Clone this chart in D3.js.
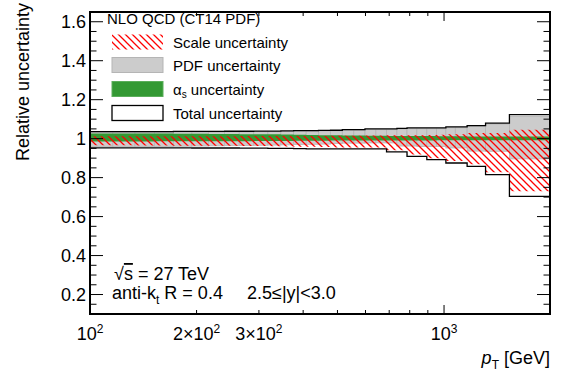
<!DOCTYPE html>
<html>
<head>
<meta charset="utf-8">
<script src="https://cdn.jsdelivr.net/npm/d3@7"></script>
<style>
  body { margin: 0; background: #fff; }
  text { font-family: "Liberation Sans", Arial, sans-serif; fill: #000; }
</style>
</head>
<body>
<svg id="chart" width="561" height="377"></svg>
<script>
// pT bin edges [GeV]
const binEdges = [100, 116, 134, 152, 172, 194, 216, 240, 264, 290, 318, 346, 376, 408, 442,
  478, 516, 556, 598, 642, 688, 736, 786, 838, 894, 952, 1012, 1076, 1162, 1310, 1530, 1992];

// relative uncertainty bands, one value per bin
const totalUp   = [1.036, 1.036, 1.036, 1.036, 1.037, 1.037, 1.037, 1.038, 1.038, 1.039, 1.039, 1.040, 1.041, 1.041, 1.042,
  1.043, 1.046, 1.046, 1.050, 1.050, 1.050, 1.053, 1.055, 1.055, 1.055, 1.055, 1.060, 1.060, 1.067, 1.080, 1.123];
const totalDown = [0.953, 0.953, 0.953, 0.953, 0.953, 0.952, 0.952, 0.952, 0.951, 0.951, 0.950, 0.950, 0.949, 0.948, 0.948,
  0.947, 0.947, 0.947, 0.947, 0.947, 0.932, 0.932, 0.909, 0.909, 0.892, 0.892, 0.875, 0.875, 0.858, 0.815, 0.704];
const pdfUp     = [1.033, 1.033, 1.033, 1.033, 1.034, 1.034, 1.034, 1.035, 1.035, 1.036, 1.036, 1.037, 1.038, 1.038, 1.039,
  1.040, 1.042, 1.042, 1.046, 1.046, 1.046, 1.049, 1.051, 1.051, 1.051, 1.051, 1.056, 1.056, 1.062, 1.075, 1.114];
const pdfDown   = [0.959, 0.959, 0.960, 0.960, 0.961, 0.962, 0.963, 0.964, 0.965, 0.966, 0.967, 0.968, 0.970, 0.971, 0.972,
  0.975, 0.977, 0.977, 0.978, 0.978, 0.978, 0.962, 0.962, 0.960, 0.960, 0.960, 0.952, 0.952, 0.936, 0.935, 0.896];
const scaleUp   = [1.012, 1.012, 1.012, 1.012, 1.012, 1.012, 1.012, 1.012, 1.013, 1.013, 1.013, 1.013, 1.014, 1.014, 1.014,
  1.015, 1.015, 1.015, 1.016, 1.016, 1.017, 1.017, 1.018, 1.018, 1.019, 1.020, 1.022, 1.022, 1.029, 1.029, 1.046];
const scaleDown = [0.966, 0.966, 0.965, 0.965, 0.964, 0.964, 0.963, 0.963, 0.962, 0.962, 0.961, 0.960, 0.959, 0.958, 0.957,
  0.955, 0.955, 0.955, 0.955, 0.955, 0.940, 0.940, 0.918, 0.918, 0.900, 0.900, 0.885, 0.885, 0.868, 0.828, 0.730];
const alphaUp   = [1.027, 1.027, 1.026, 1.026, 1.025, 1.025, 1.024, 1.024, 1.023, 1.022, 1.022, 1.021, 1.020, 1.019, 1.018,
  1.017, 1.016, 1.016, 1.015, 1.015, 1.014, 1.014, 1.013, 1.013, 1.013, 1.012, 1.012, 1.012, 1.011, 1.011, 1.011];
const alphaDown = [0.985, 0.985, 0.985, 0.986, 0.986, 0.986, 0.987, 0.987, 0.987, 0.988, 0.988, 0.988, 0.989, 0.989, 0.989,
  0.990, 0.990, 0.990, 0.990, 0.991, 0.991, 0.991, 0.991, 0.991, 0.991, 0.992, 0.992, 0.992, 0.992, 0.992, 0.992];

const yTicks = [0.2, 0.4, 0.6, 0.8, 1, 1.2, 1.4, 1.6];
const yTickLabels = ["0.2", "0.4", "0.6", "0.8", "1", "1.2", "1.4", "1.6"];
const xTicks = [100, 200, 300, 1000];
const xTickLabels = [["", "2"], ["2\u00d7", "2"], ["3\u00d7", "2"], ["", "3"]];

const legendLabels = ["Scale uncertainty", "PDF uncertainty", "\u03b1s uncertainty", "Total uncertainty"];

const svg = d3.select("#chart");
const fLeft = 90, fRight = 550, fTop = 12, fBottom = 314;

const x = d3.scaleLog().domain([100, 1992]).range([fLeft, fRight]);
const y = d3.scaleLinear().domain([0.1, 1.65]).range([fBottom, fTop]);

// hatch pattern for scale band
const defs = svg.append("defs");
const pat = defs.append("pattern").attr("id", "hatch")
  .attr("patternUnits", "userSpaceOnUse").attr("width", 7).attr("height", 7);
pat.append("path").attr("d", "M0,0 L7,7 M-1,6 L1,8 M6,-1 L8,1")
  .attr("stroke", "#ff0000").attr("stroke-width", 1.3).attr("fill", "none");

const bins = d3.range(binEdges.length - 1).map(i => ({ lo: binEdges[i], hi: binEdges[i + 1], i }));

// step path helper: each bin gets its own flat segment
const stepPts = vals => {
  const pts = bins.map(b => [b.lo, vals[b.i]]);
  pts.push([binEdges[binEdges.length - 1], vals[vals.length - 1]]);
  return pts;
};
const bandArea = (up, down) => {
  const pts = bins.map(b => ({ x: b.lo, u: up[b.i], d: down[b.i] }));
  pts.push({ x: binEdges[binEdges.length - 1], u: up[up.length - 1], d: down[down.length - 1] });
  return d3.area().curve(d3.curveStepAfter)
    .x(p => x(p.x)).y0(p => y(p.d)).y1(p => y(p.u))(pts);
};

const plot = svg.append("g");

// PDF band (grey, per bin with thin darker edges)
plot.selectAll("rect.pdf").data(bins).enter().append("rect")
  .attr("class", "pdf")
  .attr("x", b => x(b.lo)).attr("width", b => x(b.hi) - x(b.lo))
  .attr("y", b => y(pdfUp[b.i])).attr("height", b => y(pdfDown[b.i]) - y(pdfUp[b.i]))
  .attr("fill", "#cccccc").attr("stroke", "#b5b5b5").attr("stroke-width", 0.8);

// alpha_s band
plot.append("path").attr("d", bandArea(alphaUp, alphaDown)).attr("fill", "#339933");

// scale band
plot.append("path").attr("d", bandArea(scaleUp, scaleDown)).attr("fill", "url(#hatch)");

// total outline
const stepLine = d3.line().curve(d3.curveStepAfter).x(p => x(p[0])).y(p => y(p[1]));
plot.append("path").attr("d", stepLine(stepPts(totalUp)))
  .attr("fill", "none").attr("stroke", "#000").attr("stroke-width", 1.3);
plot.append("path").attr("d", stepLine(stepPts(totalDown)))
  .attr("fill", "none").attr("stroke", "#000").attr("stroke-width", 1.3);

// axes: ticks on all four sides, pointing inwards
const ax = svg.append("g").attr("stroke", "#000");
const yMinor = d3.range(0.15, 1.65, 0.05).map(v => +v.toFixed(2));
yMinor.forEach(v => {
  const major = yTicks.some(t => Math.abs(t - v) < 1e-6);
  const len = major ? 13 : 6.5;
  ax.append("line").attr("x1", fLeft).attr("x2", fLeft + len).attr("y1", y(v)).attr("y2", y(v)).attr("stroke-width", 1);
  ax.append("line").attr("x1", fRight).attr("x2", fRight - len).attr("y1", y(v)).attr("y2", y(v)).attr("stroke-width", 1);
});
const xMinor = [100, 200, 300, 400, 500, 600, 700, 800, 900, 1000];
xMinor.forEach(v => {
  const len = (v === 100 || v === 1000) ? 9 : 4;
  ax.append("line").attr("x1", x(v)).attr("x2", x(v)).attr("y1", fBottom).attr("y2", fBottom - len).attr("stroke-width", 1);
  ax.append("line").attr("x1", x(v)).attr("x2", x(v)).attr("y1", fTop).attr("y2", fTop + len).attr("stroke-width", 1);
});
svg.append("rect").attr("x", fLeft).attr("y", fTop).attr("width", fRight - fLeft).attr("height", fBottom - fTop)
  .attr("fill", "none").attr("stroke", "#000").attr("stroke-width", 2);

// tick labels
svg.selectAll("text.ytl").data(yTicks).enter().append("text")
  .attr("class", "ytl")
  .attr("x", 86).attr("y", d => y(d)).attr("dy", "0.36em")
  .attr("text-anchor", "end").attr("font-size", 18)
  .text((d, i) => yTickLabels[i]);

xTicks.forEach((v, i) => {
  const t = svg.append("text").attr("x", x(v)).attr("y", 340)
    .attr("text-anchor", "middle").attr("font-size", 18);
  t.append("tspan").text(xTickLabels[i][0] + "10");
  t.append("tspan").attr("dy", -7).attr("font-size", 12).text(xTickLabels[i][1]);
});

// axis titles
svg.append("text").attr("transform", "translate(29,3) rotate(-90)")
  .attr("text-anchor", "end").attr("font-size", 18).text("Relative uncertainty");
const xt = svg.append("text").attr("x", 550).attr("y", 364).attr("text-anchor", "end").attr("font-size", 18);
xt.append("tspan").attr("font-style", "italic").text("p");
xt.append("tspan").attr("dy", 5).attr("font-size", 12).text("T");
xt.append("tspan").attr("dy", -5).text(" [GeV]");

// legend
svg.append("text").attr("x", 107).attr("y", 24).attr("font-size", 15).text("NLO QCD (CT14 PDF)");
const rowY = [42, 65, 89, 113];
const sw = { x: 112, w: 51, h: 15 };
svg.append("rect").attr("x", sw.x).attr("y", rowY[0] - 7.5).attr("width", sw.w).attr("height", sw.h)
  .attr("fill", "url(#hatch)");
svg.append("rect").attr("x", sw.x).attr("y", rowY[1] - 7.5).attr("width", sw.w).attr("height", sw.h)
  .attr("fill", "#cccccc").attr("stroke", "#b5b5b5");
svg.append("rect").attr("x", sw.x).attr("y", rowY[2] - 7.5).attr("width", sw.w).attr("height", sw.h)
  .attr("fill", "#339933").attr("stroke", "#5aae5a");
svg.append("rect").attr("x", sw.x).attr("y", rowY[3] - 7.5).attr("width", sw.w).attr("height", sw.h)
  .attr("fill", "#fff").attr("stroke", "#000").attr("stroke-width", 1.3);
legendLabels.forEach((lab, i) => {
  const t = svg.append("text").attr("x", 173).attr("y", rowY[i] + 5.5).attr("font-size", 15);
  if (i === 2) {
    t.append("tspan").text("\u03b1");
    t.append("tspan").attr("dy", 3).attr("font-size", 10).text("s");
    t.append("tspan").attr("dy", -3).text(" uncertainty");
  } else {
    t.text(lab);
  }
});

// annotations
const a1 = svg.append("text").attr("x", 114).attr("y", 280).attr("font-size", 18);
a1.append("tspan").text("\u221a");
a1.append("tspan").style("text-decoration", "overline").text("s");
a1.append("tspan").text(" = 27 TeV");
const a2 = svg.append("text").attr("x", 112).attr("y", 299).attr("font-size", 18);
a2.append("tspan").text("anti-k");
a2.append("tspan").attr("dy", 5).attr("font-size", 12).text("t");
a2.append("tspan").attr("dy", -5).text(" R = 0.4");
svg.append("text").attr("x", 247).attr("y", 299).attr("font-size", 18).text("2.5\u2264|y|<3.0");
</script>
</body>
</html>
